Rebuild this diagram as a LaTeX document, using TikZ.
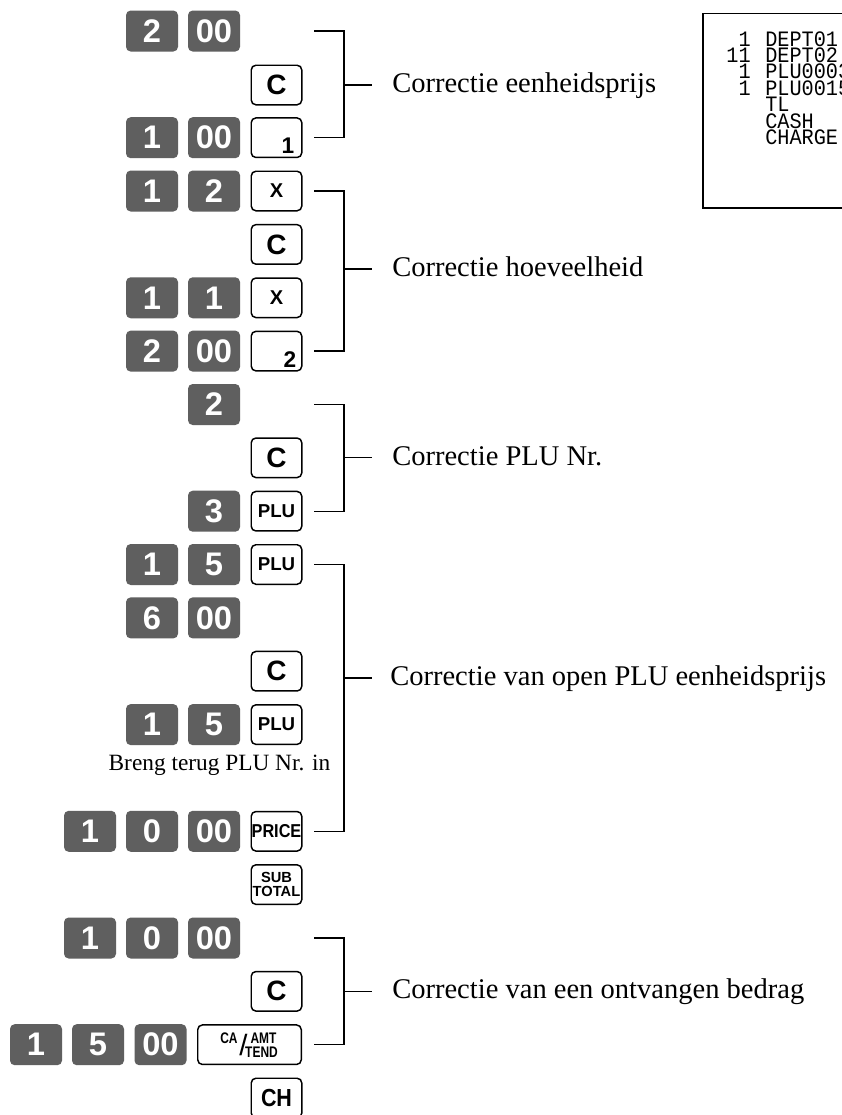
\documentclass[tikz,border=0pt]{standalone}
\usepackage{fontspec}
\setmainfont{Liberation Serif}
\newfontfamily\keyd{Liberation Sans}
\newfontfamily\keyn{Liberation Sans}[FakeStretch=0.87]
\newfontfamily\keyc{Liberation Sans}[FakeStretch=0.78]
\newfontfamily\rcpt{Liberation Mono}[FakeStretch=0.92]
\usetikzlibrary{calc}
\definecolor{keygray}{RGB}{95,95,95}
\tikzset{
 gk/.style={rectangle, rounded corners=3.5pt, fill=keygray, text=white, minimum width=39pt, minimum height=30.75pt, inner sep=0pt, font=\keyd\bfseries\fontsize{24.5}{24.5}\selectfont},
 wk/.style={rectangle, rounded corners=3.5pt, draw=black, line width=1.1pt, fill=white, minimum width=37.9pt, minimum height=29.65pt, inner sep=0pt},
 kC/.style={wk, font=\keyd\bfseries\fontsize{21}{21}\selectfont},
 kX/.style={wk, font=\keyd\bfseries\fontsize{15}{15}\selectfont},
 kP/.style={wk, font=\keyd\bfseries\fontsize{14}{14}\selectfont},
 kPr/.style={wk, font=\keyn\bfseries\fontsize{14}{14}\selectfont},
 kS/.style={wk, align=center, font=\keyd\bfseries\fontsize{11}{10.3}\selectfont},
 kH/.style={wk, font=\keyn\bfseries\fontsize{18.5}{18.5}\selectfont},
 sd/.style={anchor=base east, inner sep=0pt, font=\keyd\bfseries\fontsize{17}{17}\selectfont},
 sm/.style={inner sep=0pt, font=\keyc\bfseries\fontsize{11.5}{11.5}\selectfont},
 brk/.style={line width=1pt, black},
 lbl/.style={anchor=base west, inner sep=0pt, font=\fontsize{21.4}{24}\selectfont},
 rn/.style={anchor=base east, inner sep=0pt, font=\rcpt\fontsize{16.5}{16.5}\selectfont},
 rt/.style={anchor=base west, inner sep=0pt, font=\rcpt\fontsize{16.5}{16.5}\selectfont},
}
\begin{document}
\begin{tikzpicture}[x=0.75pt,y=-0.75pt]
\clip (0,0) rectangle (842,1115);
\fill[white] (0,0) rectangle (842,1115);
% receipt
\draw[line width=1pt] (703,13.5) rectangle (870,208);
\node[rn] (r1n) at (751,46) {1};   \node[rt] (r1t) at (765,46) {DEPT01};
\node[rn] (r2n) at (751,62.4) {11}; \node[rt] (r2t) at (765,62.4) {DEPT02};
\node[rn] (r3n) at (751,78.8) {1};  \node[rt] (r3t) at (765,78.8) {PLU0003};
\node[rn] (r4n) at (751,95.2) {1};  \node[rt] (r4t) at (765,95.2) {PLU0015};
\node[rt] (r5t) at (765,111.6) {TL};
\node[rt] (r6t) at (765,128) {CASH};
\node[rt] (r7t) at (765,144.4) {CHARGE};
% row 0
\node[gk] (k0b) at (152,31) {2};
\node[gk] (k0a) at (214,31) {00};
% row 1
\node[kC] (k1w) at (276.5,85) {C};
% row 2
\node[gk] (k2b) at (152,137.7) {1};
\node[gk] (k2a) at (214,137.7) {00};
\node[wk] (k2w) at (276.5,137.7) {};
\node[sd] (k2d) at ($(k2w.south east)+(-8,-4.5)$) {1};
% row 3
\node[gk] (k3b) at (152,191) {1};
\node[gk] (k3a) at (214,191) {2};
\node[kX] (k3w) at (276.5,191) {X};
% row 4
\node[kC] (k4w) at (276.5,244.4) {C};
% row 5
\node[gk] (k5b) at (152,297.8) {1};
\node[gk] (k5a) at (214,297.8) {1};
\node[kX] (k5w) at (276.5,297.8) {X};
% row 6
\node[gk] (k6b) at (152,351.1) {2};
\node[gk] (k6a) at (214,351.1) {00};
\node[wk] (k6w) at (276.5,351.1) {};
\node[sd] (k6d) at ($(k6w.south east)+(-6,-4.5)$) {2};
% row 7
\node[gk] (k7a) at (214,404.5) {2};
% row 8
\node[kC] (k8w) at (276.5,457.8) {C};
% row 9
\node[gk] (k9a) at (214,511.2) {3};
\node[kP] (k9w) at (276.5,511.2) {PLU};
% row 10
\node[gk] (k10b) at (152,564.5) {1};
\node[gk] (k10a) at (214,564.5) {5};
\node[kP] (k10w) at (276.5,564.5) {PLU};
% row 11
\node[gk] (k11b) at (152,617.9) {6};
\node[gk] (k11a) at (214,617.9) {00};
% row 12
\node[kC] (k12w) at (276.5,671.2) {C};
% row 13
\node[gk] (k13b) at (152,724.6) {1};
\node[gk] (k13a) at (214,724.6) {5};
\node[kP] (k13w) at (276.5,724.6) {PLU};
\node[anchor=base, inner sep=0pt, font=\fontsize{17.5}{20}\selectfont] (note) at (219.5,770.5) {Breng terug PLU Nr. in};
% row 15
\node[gk] (k15c) at (90,831.3) {1};
\node[gk] (k15b) at (152,831.3) {0};
\node[gk] (k15a) at (214,831.3) {00};
\node[kPr] (k15w) at (276.5,831.3) {PRICE};
% row 16
\node[kS] (k16w) at (276.5,884.6) {SUB\\TOTAL};
% row 17
\node[gk] (k17c) at (90,938) {1};
\node[gk] (k17b) at (152,938) {0};
\node[gk] (k17a) at (214,938) {00};
% row 18
\node[kC] (k18w) at (276.5,991.3) {C};
% row 19
\node[gk] (k19c) at (36,1044.7) {1};
\node[gk] (k19b) at (98,1044.7) {5};
\node[gk] (k19a) at (160.5,1044.7) {00};
\node[wk, minimum width=77.65pt] (k19w) at (249.5,1044.7) {};
\node[sm] (k19ca) at (229,1038) {CA};
\node[inner sep=0pt, font=\keyd\fontsize{22}{22}\selectfont] (k19sl) at (243.5,1045) {/};
\node[sm] (k19amt) at (263.5,1038) {AMT};
\node[sm] (k19tend) at (261.5,1052.5) {TEND};
% row 20
\node[kH] (k20w) at (276.5,1098) {CH};
% brackets
\coordinate (b1t) at (314,31);    \coordinate (b1b) at (314,137.7);
\coordinate (b1m) at (344,85);    \coordinate (b1e) at (372,85);
\draw[brk] (b1t) -| (b1m) |- (b1b); \draw[brk] (b1m) -- (b1e);
\node[lbl] (l1) at (392,92.5) {Correctie eenheidsprijs};
\coordinate (b2t) at (314,191);   \coordinate (b2b) at (314,351.1);
\coordinate (b2m) at (344,269);   \coordinate (b2e) at (372,269);
\draw[brk] (b2t) -| (b2m) |- (b2b); \draw[brk] (b2m) -- (b2e);
\node[lbl] (l2) at (392,276.5) {Correctie hoeveelheid};
\coordinate (b3t) at (314,404.5); \coordinate (b3b) at (314,511.2);
\coordinate (b3m) at (344,457.8); \coordinate (b3e) at (372,457.8);
\draw[brk] (b3t) -| (b3m) |- (b3b); \draw[brk] (b3m) -- (b3e);
\node[lbl] (l3) at (392,465.3) {Correctie PLU Nr.};
\coordinate (b4t) at (314,564.5); \coordinate (b4b) at (314,831.3);
\coordinate (b4m) at (344,678);   \coordinate (b4e) at (372,678);
\draw[brk] (b4t) -| (b4m) |- (b4b); \draw[brk] (b4m) -- (b4e);
\node[lbl] (l4) at (390,685.5) {Correctie van open PLU eenheidsprijs};
\coordinate (b5t) at (314,938);   \coordinate (b5b) at (314,1044.7);
\coordinate (b5m) at (344,991.3); \coordinate (b5e) at (372,991.3);
\draw[brk] (b5t) -| (b5m) |- (b5b); \draw[brk] (b5m) -- (b5e);
\node[lbl] (l5) at (392,998.8) {Correctie van een ontvangen bedrag};
\end{tikzpicture}
\end{document}
